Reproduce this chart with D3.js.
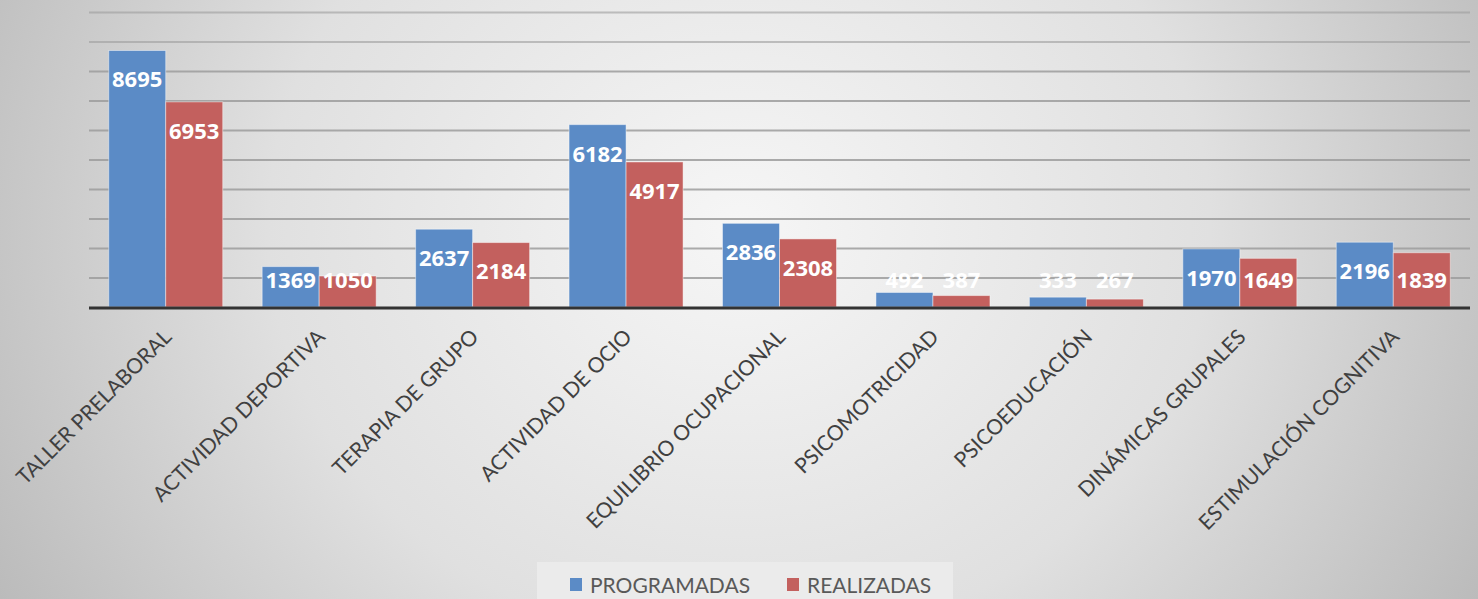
<!DOCTYPE html>
<html>
<head>
<meta charset="utf-8">
<script src="https://cdn.jsdelivr.net/npm/d3@7"></script>
<style>
  html, body { margin: 0; padding: 0; overflow: hidden; }
  svg { display: block; }
</style>
</head>
<body>
<svg class="chart"></svg>
<script>
// actividades programadas vs realizadas
var categories = ["TALLER PRELABORAL", "ACTIVIDAD DEPORTIVA", "TERAPIA DE GRUPO", "ACTIVIDAD DE OCIO",
  "EQUILIBRIO OCUPACIONAL", "PSICOMOTRICIDAD", "PSICOEDUCACIÓN", "DINÁMICAS GRUPALES", "ESTIMULACIÓN COGNITIVA"];
var programadas = [8695, 1369, 2637, 6182, 2836, 492, 333, 1970, 2196];
var realizadas = [6953, 1050, 2184, 4917, 2308, 387, 267, 1649, 1839];
var seriesNames = ["PROGRAMADAS", "REALIZADAS"];
var yTicks = [0, 1000, 2000, 3000, 4000, 5000, 6000, 7000, 8000, 9000, 10000];

var width = 1478, height = 599;
var margin = { top: 12, right: 8, bottom: 292, left: 89 };
var color = d3.scaleOrdinal(seriesNames, ["#5b8bc6", "#c3605e"]);

var svg = d3.select(".chart")
  .attr("width", width)
  .attr("height", height);

// background gradient
var defs = svg.append("defs");
var grad = defs.append("radialGradient")
  .attr("id", "bg")
  .attr("cx", "50%").attr("cy", "38%").attr("r", "58%")
  .attr("gradientTransform", "translate(0.5,0.38) scale(1,2.2) translate(-0.5,-0.38)");
grad.append("stop").attr("offset", "0%").attr("stop-color", "#f6f6f6");
grad.append("stop").attr("offset", "55%").attr("stop-color", "#e0e0e0");
grad.append("stop").attr("offset", "100%").attr("stop-color", "#bababa");

svg.append("rect")
  .attr("width", width)
  .attr("height", height)
  .attr("fill", "url(#bg)");

var x = d3.scaleBand()
  .domain(categories)
  .range([margin.left, width - margin.right])
  .paddingInner(0.257)
  .paddingOuter(0.1285);

var x1 = d3.scaleBand()
  .domain(seriesNames)
  .range([0, x.bandwidth()]);

var y = d3.scaleLinear()
  .domain([0, 10000])
  .range([height - margin.bottom, margin.top]);

// gridlines
svg.append("g")
  .attr("class", "grid")
  .call(d3.axisLeft(y).tickValues(yTicks.slice(1)).tickSize(-(width - margin.right - margin.left)).tickFormat(""))
  .attr("transform", "translate(" + margin.left + ",0)")
  .call(function(g) { g.select(".domain").remove(); })
  .call(function(g) { g.selectAll("line")
    .attr("stroke", "#9c9c9c")
    .attr("stroke-width", 2)
    .attr("stroke-opacity", function(d) { return d >= 9000 ? 0.6 : 0.85; }); });

// bars
var rows = categories.map(function(c, i) {
  return { cat: c, values: [
    { key: seriesNames[0], value: programadas[i] },
    { key: seriesNames[1], value: realizadas[i] }
  ] };
});

var group = svg.append("g")
  .selectAll("g")
  .data(rows)
  .join("g")
  .attr("transform", function(d) { return "translate(" + x(d.cat) + ",0)"; });

group.selectAll("rect")
  .data(function(d) { return d.values; })
  .join("rect")
  .attr("x", function(d) { return x1(d.key); })
  .attr("y", function(d) { return y(d.value); })
  .attr("width", x1.bandwidth())
  .attr("height", function(d) { return y(0) - y(d.value); })
  .attr("fill", function(d) { return color(d.key); })
  .attr("stroke", "rgba(255,255,255,0.45)")
  .attr("stroke-width", 1);

group.selectAll("text")
  .data(function(d) { return d.values; })
  .join("text")
  .attr("x", function(d) { return x1(d.key) + x1.bandwidth() / 2; })
  .attr("y", function(d) { return Math.min(y(d.value) + 29, y(0) - 27); })
  .attr("dy", "0.36em")
  .attr("text-anchor", "middle")
  .attr("fill", "#ffffff")
  .style("font", "bold 22px 'Open Sans', sans-serif")
  .text(function(d) { return d.value; });

// x axis baseline
svg.append("line")
  .attr("x1", margin.left)
  .attr("x2", width - margin.right)
  .attr("y1", y(0) + 1)
  .attr("y2", y(0) + 1)
  .attr("stroke", "#333")
  .attr("stroke-width", 3);

// category labels
svg.append("g")
  .selectAll("text")
  .data(categories)
  .join("text")
  .attr("transform", function(d) { return "translate(" + (x(d) + x.bandwidth() / 2 + 2) + "," + (y(0) + 26) + ") rotate(-45)"; })
  .attr("text-anchor", "end")
  .attr("dy", "0.35em")
  .attr("fill", "#404040")
  .style("font", "21px Lato, sans-serif")
  .text(function(d) { return d; });

// legend
var legend = svg.append("g");
legend.append("rect")
  .attr("x", 537).attr("y", 562)
  .attr("width", 416).attr("height", 45)
  .attr("fill", "#ebebeb");

var legendX = [570, 787];
var item = legend.selectAll("g")
  .data(seriesNames)
  .join("g")
  .attr("transform", function(d, i) { return "translate(" + legendX[i] + ",578)"; });

item.append("rect")
  .attr("width", 12).attr("height", 13)
  .attr("fill", function(d) { return color(d); });

item.append("text")
  .attr("x", 20)
  .attr("y", 7)
  .attr("dy", "0.36em")
  .attr("fill", "#595959")
  .style("font", "21px Lato, sans-serif")
  .text(function(d) { return d; });
</script>
</body>
</html>
